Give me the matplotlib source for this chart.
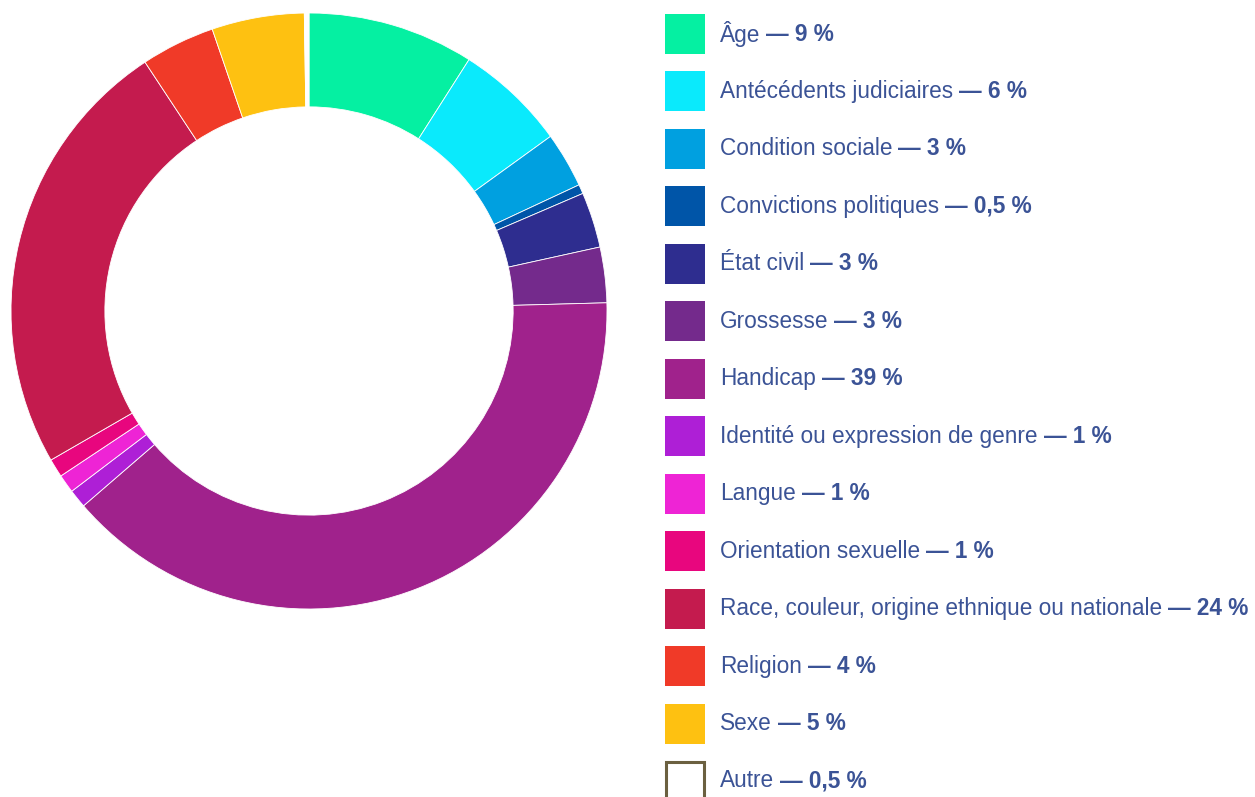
import matplotlib.pyplot as plt
from matplotlib.patches import Rectangle

plt.rcParams['font.family'] = ['Liberation Sans', 'DejaVu Sans']

labels = ['Âge', 'Antécédents judiciaires', 'Condition sociale', 'Convictions politiques',
          'État civil', 'Grossesse', 'Handicap', 'Identité ou expression de genre',
          'Langue', 'Orientation sexuelle', 'Race, couleur, origine ethnique ou nationale',
          'Religion', 'Sexe', 'Autre']
pct_labels = ['9 %', '6 %', '3 %', '0,5 %', '3 %', '3 %', '39 %', '1 %', '1 %', '1 %',
              '24 %', '4 %', '5 %', '0,5 %']
# wedge sizes
values = [9, 6, 3, 0.5, 3, 3, 39, 1, 1, 1, 24, 4, 5, 0.25]
colors = ['#05f0a2', '#0aeafc', '#00a0e0', '#0055a8', '#2e2d8f', '#742a8c', '#a0228c',
          '#ae1fd6', '#ee24d5', '#e8067e', '#c41b4e', '#f03a28', '#fec111', '#ffffff']
text_color = '#3b5396'

W, H = 1255, 797
fig = plt.figure(figsize=(W / 100, H / 100), dpi=100)

# donut
cx, cy, r = 309, 311, 298
ax = fig.add_axes([(cx - r) / W, (H - cy - r) / H, 2 * r / W, 2 * r / H])
ax.pie(values, colors=colors, startangle=90, counterclock=False, radius=1,
       wedgeprops=dict(width=0.315, edgecolor='white', linewidth=0.6))
ax.set_xlim(-1, 1)
ax.set_ylim(-1, 1)
ax.set_aspect('equal')
ax.axis('off')

# legend
lax = fig.add_axes([0, 0, 1, 1])
lax.set_xlim(0, W)
lax.set_ylim(H, 0)
lax.axis('off')

renderer = fig.canvas.get_renderer()
fs = 16.3
y0, step = 34, 57.46
for i, (lab, p, c) in enumerate(zip(labels, pct_labels, colors)):
    y = y0 + i * step
    if c == '#ffffff':
        lax.add_patch(Rectangle((666, y - 19), 38, 38, facecolor='white',
                                edgecolor='#6b6040', linewidth=2.2, clip_on=False))
    else:
        lax.add_patch(Rectangle((665, y - 20), 40, 40, facecolor=c, edgecolor='none'))
    t = lax.text(720, y, lab, fontsize=fs, color=text_color, va='center', ha='left')
    bb = t.get_window_extent(renderer=renderer)
    lax.text(bb.x1 + 6, y, '— ' + p, fontsize=fs, color=text_color,
             va='center', ha='left', fontweight='bold')

fig.savefig('out.png', dpi=100)
